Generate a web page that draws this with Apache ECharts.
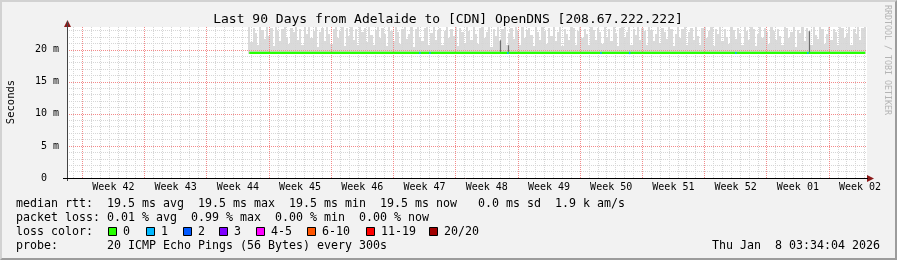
<!DOCTYPE html>
<html><head><meta charset="utf-8">
<script src="https://cdn.jsdelivr.net/npm/echarts@6/dist/echarts.min.js"></script>
<style>
html,body{margin:0;padding:0;background:#f2f2f2;}
#frame{position:absolute;left:0;top:0;width:897px;height:260px;box-sizing:border-box;border-top:2px solid #d2d2d2;border-left:2px solid #d2d2d2;border-right:2px solid #9c9c9c;border-bottom:2px solid #9c9c9c;}
#chart{position:absolute;left:0;top:0;width:897px;height:260px;}
</style></head>
<body><div id="frame"></div><div id="chart"></div>
<script>
// ---------- data ----------
const titleText = 'Last 90 Days from Adelaide to [CDN] OpenDNS [208.67.222.222]';
const spanDays = 90;                 // x axis: days since start of window
const firstMondayDay = 1.72;         // first week boundary (Mon) in days from start
const weekLabels = ['Week 42','Week 43','Week 44','Week 45','Week 46','Week 47','Week 48',
                    'Week 49','Week 50','Week 51','Week 52','Week 01','Week 02'];
const yTicks = [0, 5, 10, 15, 20];
const yTickLabels = ['0  ', '5 m', '10 m', '15 m', '20 m'];
const yMax = 23.55;                  // ms

const smokeStartDay = 20.5;
const smokeStepDays = 0.25;
const smokeLowMs = 19.4;
const smokeTopMs = [
 23.5,21.2,23.4,22.6,20.8,23.5,23.1,21.7,23.5,22.2,23.4,20.6,23.5,22.9,21.4,23.3,23.5,22.0,20.9,23.4,
 22.7,23.5,21.5,23.2,20.7,23.5,22.4,23.5,21.9,23.0,23.5,20.5,22.8,23.4,21.3,23.5,22.5,20.9,23.3,23.5,
 21.8,22.9,23.5,20.6,23.4,22.1,23.5,21.6,23.2,20.8,23.5,22.7,23.4,21.2,23.5,22.3,20.7,23.1,23.5,21.9,
 23.4,22.5,20.6,23.5,23.0,21.4,23.5,22.8,20.9,23.3,23.5,21.7,22.4,23.5,20.5,23.2,23.5,22.0,21.3,23.4,
 23.5,20.8,22.6,23.5,21.5,23.1,23.4,20.7,22.9,23.5,21.8,23.3,22.2,23.5,20.6,23.4,22.7,21.1,23.5,23.0,
 21.6,23.5,22.4,20.9,23.4,23.5,21.9,22.8,23.5,20.5,23.2,22.1,23.5,21.4,23.3,23.5,20.8,22.6,23.4,21.7,
 23.5,22.9,20.7,23.5,21.8,23.1,23.4,22.3,20.6,23.5,22.7,21.5,23.5,23.0,20.9,23.4,22.2,23.5,21.3,22.8,
 23.5,20.6,23.3,22.5,21.6,23.5,23.4,20.8,22.9,23.5,21.9,23.2,22.4,20.7,23.5,23.1,21.5,23.4,22.8,20.9,
 23.5,22.0,23.3,21.4,23.5,22.6,20.6,23.4,23.5,21.8,22.7,23.5,20.8,23.2,22.3,23.5,21.6,23.4,22.9,20.7,
 23.5,23.1,21.3,22.5,23.5,20.9,23.4,22.8,21.7,23.5,23.2,20.6,22.4,23.5,21.9,23.3,23.5,20.8,22.7,23.4,
 21.5,23.5,22.1,20.7,23.4,23.5,21.8,22.9,23.5,20.6,23.2,22.5,23.5,21.4,23.3,22.0,20.9,23.5,23.1,21.7,
 23.4,22.6,20.8,23.5,22.9,21.5,23.5,23.2,20.6,22.4,23.5,21.9,23.4,22.7,20.9,23.5,23.0,21.6,23.3,22.2,
 20.7,23.5,23.4,21.8,22.8,23.5,20.5,23.1,22.6,23.5,21.4,23.4,22.9,20.8,23.5,22.3,21.7,23.5,23.2,20.9,
 22.5,23.5,21.6,23.3,22.8,20.7,23.5,23.4,21.9,22.6,23.5,20.8,23.2,22.4,23.5,21.5,23.4,23.5
];
const medianDays = [20.5, 89.8];
const medianMs = [19.5, 19.5];
const spikeDays = [48.75, 49.6, 83.45];
const spikeTopMs = [21.5, 20.7, 22.9];
const lossDays = [39.7, 40.83, 49.6, 60.07, 63.3, 75.25, 83.35];
const lossCounts = [1, 1, 1, 1, 1, 1, 1];

const lossLegend = ['0', '1', '2', '3', '4-5', '6-10', '11-19', '20/20'];
const lossColors = ['#26ff00', '#00b8ff', '#0059ff', '#7e00ff', '#ff00ff', '#ff5500', '#ff0000', '#a10000'];
const legendLine1 = 'median rtt:  19.5 ms avg  19.5 ms max  19.5 ms min  19.5 ms now   0.0 ms sd  1.9 k am/s';
const legendLine2 = 'packet loss: 0.01 % avg  0.99 % max  0.00 % min  0.00 % now';
const legendLine3 = 'loss color:';
const legendLine4 = 'probe:       20 ICMP Echo Pings (56 Bytes) every 300s';
const dateText = 'Thu Jan  8 03:34:04 2026';
const creditText = 'RRDTOOL / TOBI OETIKER';

// ---------- derived structures ----------
const weekLines = weekLabels.map((_, i) => firstMondayDay + 7 * i);
const weekMids = weekLabels.map((_, i) => firstMondayDay + 3.5 + 7 * i);
const dayLines = [];
for (let d = firstMondayDay - 1; d < spanDays; d += 1) {
  const k = Math.round(d - firstMondayDay);
  if (k % 7 !== 0) dayLines.push(+d.toFixed(3));
}
const smokeDays = smokeTopMs.map((_, i) => smokeStartDay + i * smokeStepDays);
const lossColorFor = n => n <= 0 ? lossColors[0] : n === 1 ? lossColors[1] : n === 2 ? lossColors[2] :
  n === 3 ? lossColors[3] : n <= 5 ? lossColors[4] : n <= 10 ? lossColors[5] : n <= 19 ? lossColors[6] : lossColors[7];

const FONT = '"DejaVu Sans Mono", "Liberation Mono", monospace';
const MAJOR = '#f38a8a';
const MINOR = '#d6d6d6';

const chart = echarts.init(document.getElementById('chart'), null, {renderer: 'canvas'});

const legendY = [204, 218, 232, 246];
const boxX = [108, 146, 183, 219, 256, 307, 366, 429];
const graphics = [
  {type: 'text', x: 448, y: 19.5, style: {text: titleText, font: '13px ' + FONT, fill: '#000', textAlign: 'center', textVerticalAlign: 'middle', verticalAlign: 'middle'}},
  {type: 'text', x: 11, y: 102, rotation: Math.PI / 2, style: {text: 'Seconds', font: '10.5px ' + FONT, fill: '#000', textAlign: 'center', textVerticalAlign: 'middle', verticalAlign: 'middle'}},
  {type: 'text', x: 887, y: 60, rotation: -Math.PI / 2, style: {text: creditText, font: '8.3px ' + FONT, fill: '#b4b4b4', textAlign: 'center', textVerticalAlign: 'middle', verticalAlign: 'middle'}},
  {type: 'text', x: 16, y: legendY[0], style: {text: legendLine1, font: '11.63px ' + FONT, fill: '#000', textVerticalAlign: 'middle', verticalAlign: 'middle'}},
  {type: 'text', x: 16, y: legendY[1], style: {text: legendLine2, font: '11.63px ' + FONT, fill: '#000', textVerticalAlign: 'middle', verticalAlign: 'middle'}},
  {type: 'text', x: 16, y: legendY[2], style: {text: legendLine3, font: '11.63px ' + FONT, fill: '#000', textVerticalAlign: 'middle', verticalAlign: 'middle'}},
  {type: 'text', x: 16, y: legendY[3], style: {text: legendLine4, font: '11.63px ' + FONT, fill: '#000', textVerticalAlign: 'middle', verticalAlign: 'middle'}},
  {type: 'text', x: 880, y: legendY[3], style: {text: dateText, font: '11.63px ' + FONT, fill: '#000', textAlign: 'right', textVerticalAlign: 'middle', verticalAlign: 'middle'}},
  // axis arrows
  {type: 'polygon', z: 10, shape: {points: [[867, 175], [874, 178.5], [867, 182]]}, style: {fill: '#8b1a1a'}},
  {type: 'polygon', z: 10, shape: {points: [[64, 27], [67.5, 20], [71, 27]]}, style: {fill: '#8b1a1a'}},
  {type: 'line', z: 10, shape: {x1: 67.5, y1: 21, x2: 67.5, y2: 181}, style: {stroke: '#444', lineWidth: 1}},
  {type: 'line', z: 10, shape: {x1: 63, y1: 178.5, x2: 868, y2: 178.5}, style: {stroke: '#000', lineWidth: 1}}
];
lossLegend.forEach((lab, i) => {
  graphics.push({type: 'rect', shape: {x: boxX[i] + 0.5, y: legendY[2] - 4.5, width: 8, height: 8}, style: {fill: lossColors[i], stroke: '#000', lineWidth: 1}});
  graphics.push({type: 'text', x: boxX[i] + 15, y: legendY[2], style: {text: lab, font: '11.63px ' + FONT, fill: '#000', textVerticalAlign: 'middle', verticalAlign: 'middle'}});
});

const option = {
  animation: false,
  backgroundColor: 'transparent',
  grid: {left: 67, top: 27, width: 800, height: 151, show: true, backgroundColor: '#ffffff', borderWidth: 0},
  xAxis: [
    { // daily minor grid
      type: 'value', min: 0, max: spanDays, position: 'bottom', z: 2,
      axisLine: {show: false}, axisLabel: {show: false},
      axisTick: {show: false, customValues: dayLines},
      splitLine: {show: true, lineStyle: {color: MINOR, type: [1, 1], width: 1}}
    },
    { // weeks
      type: 'value', min: 0, max: spanDays, position: 'bottom', z: 3,
      axisLine: {show: false},
      axisTick: {show: false, customValues: weekLines},
      axisLabel: {
        customValues: weekMids, margin: 4, color: '#000', fontFamily: FONT, fontSize: 10,
        formatter: v => { let best = 0; weekMids.forEach((m, i) => { if (Math.abs(m - v) < Math.abs(weekMids[best] - v)) best = i; }); return weekLabels[best]; }
      },
      splitLine: {show: true, lineStyle: {color: MAJOR, type: [1, 1], width: 1, opacity: 1}}
    }
  ],
  yAxis: {
    type: 'value', min: 0, max: yMax, interval: 5, z: 3,
    axisLine: {show: false},
    axisTick: {show: false, customValues: yTicks},
    axisLabel: {customValues: yTicks, margin: 8, color: '#000', fontFamily: FONT, fontSize: 10,
      formatter: v => { const i = yTicks.indexOf(Math.round(v)); return i >= 0 ? yTickLabels[i] : ''; }},
    splitLine: {show: true, lineStyle: {color: MAJOR, type: [1, 1], width: 1, opacity: 1}},
    minorTick: {show: false, splitNumber: 5},
    minorSplitLine: {show: true, lineStyle: {color: MINOR, type: [1, 1], width: 1}}
  },
  series: [
    {type: 'custom', name: 'smoke', xAxisIndex: 1, z: 1, silent: true,
     encode: {x: 0, y: [1, 2]},
     data: smokeDays.map((d, i) => [d, smokeTopMs[i], smokeLowMs]),
     renderItem: (params, api) => {
       const d = api.value(0);
       const p1 = api.coord([d - smokeStepDays / 2, api.value(1)]);
       const p2 = api.coord([d + smokeStepDays / 2, api.value(2)]);
       const x1 = Math.round(p1[0]), x2 = Math.round(p2[0]);
       return {type: 'rect', shape: {x: x1, y: Math.round(p1[1]), width: x2 - x1, height: Math.round(p2[1]) - Math.round(p1[1])},
               style: {fill: '#dadada'}};
     }},
    {type: 'lines', coordinateSystem: 'cartesian2d', xAxisIndex: 1, z: 3, silent: true,
     lineStyle: {color: '#6e6e6e', width: 1.2, opacity: 1},
     data: spikeDays.map((d, i) => ({coords: [[d, medianMs[0]], [d, spikeTopMs[i]]]}))},
    {type: 'line', name: 'median', xAxisIndex: 1, z: 4, silent: true, showSymbol: false, symbol: 'none',
     lineStyle: {color: lossColors[0], width: 2.2},
     data: medianDays.map((d, i) => [d, medianMs[i]])},
    {type: 'lines', coordinateSystem: 'cartesian2d', xAxisIndex: 1, z: 5, silent: true,
     data: lossDays.map((d, i) => ({coords: [[d - 0.08, medianMs[0]], [d + 0.08, medianMs[0]]],
       lineStyle: {color: lossColorFor(lossCounts[i]), width: 2.2, opacity: 1}}))}
  ],
  graphic: graphics
};
chart.setOption(option);
</script>
</body></html>
